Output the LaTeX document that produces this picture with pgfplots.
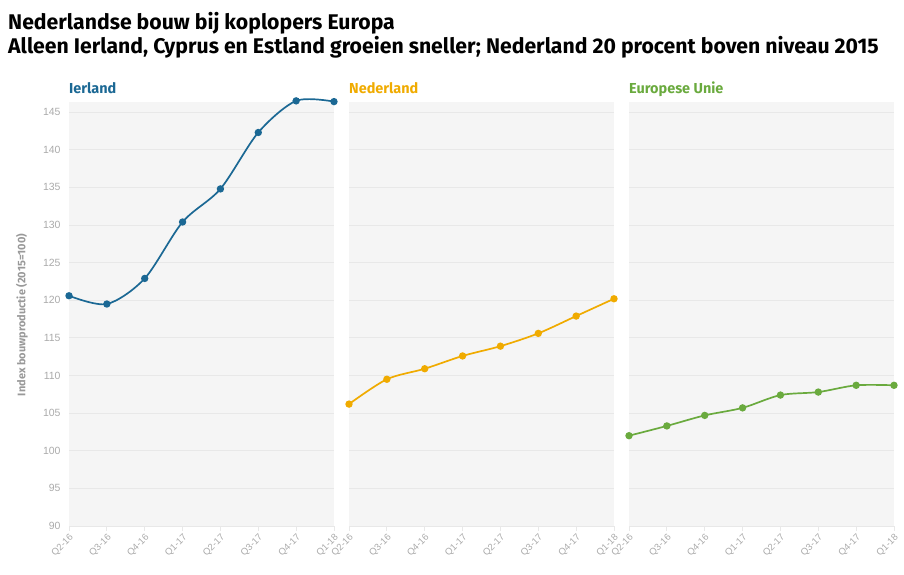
\documentclass[border=0pt]{standalone}
\usepackage{pgfplots}
\pgfplotsset{compat=1.18}
\usepackage{fontspec}
\setmainfont{Fira Sans}
\newfontfamily\arialf{Liberation Sans}
\definecolor{ie}{HTML}{1B6894}
\definecolor{nl}{HTML}{F0AB00}
\definecolor{eu}{HTML}{6AAA3E}
\definecolor{bgc}{HTML}{F5F5F5}
\definecolor{gridc}{HTML}{E8E8E8}
\definecolor{tickc}{HTML}{AAAAAA}
\definecolor{labc}{HTML}{999999}
\pgfplotsset{
  panel/.style={
    scale only axis, width=265bp, height=424bp, anchor=south west,
    xmin=0, xmax=7, ymin=90, ymax=146.35,
    axis background/.style={fill=bgc},
    axis x line*=bottom, axis y line*=left,
    x axis line style={draw=gridc, line width=0.8pt, -},
    y axis line style={draw=none},
    ytick={90,95,...,145},
    ymajorgrids, grid style={draw=gridc, line width=0.8pt},
    ytick style={draw=none},
    xtick={0,...,7},
    xticklabels={Q2-16,Q3-16,Q4-16,Q1-17,Q2-17,Q3-17,Q4-17,Q1-18},
    tick align=outside, major tick length=5bp,
    xtick style={draw=gridc, line width=0.8pt},
    x tick label style={rotate=45, anchor=north east, font=\arialf\fontsize{9.5}{10}\selectfont, text=tickc, inner sep=1.5pt},
    y tick label style={font=\arialf\fontsize{10.5}{11}\selectfont, text=tickc},
    /pgf/number format/assume math mode=true,
    clip=false,
    every axis plot/.append style={line width=1.7pt, smooth, tension=0.5, mark=*, mark size=2.8pt},
  }
}
\begin{document}
\begin{tikzpicture}
\useasboundingbox (0,0) rectangle (904bp,575bp);
\node[anchor=base west, inner sep=0, font=\bfseries\fontsize{21.3}{24}\selectfont] at (8bp,545.5bp) {Nederlandse bouw bij koplopers Europa};
\node[anchor=base west, inner sep=0, font=\bfseries\fontsize{21.3}{24}\selectfont] at (8bp,521.5bp) {Alleen Ierland, Cyprus en Estland groeien sneller; Nederland 20 procent boven niveau 2015};
\node[anchor=base west, inner sep=0, font=\bfseries\fontsize{14.5}{16}\selectfont, text=ie] at (69bp,481bp) {Ierland};
\node[anchor=base west, inner sep=0, font=\bfseries\fontsize{14.5}{16}\selectfont, text=nl] at (349bp,481bp) {Nederland};
\node[anchor=base west, inner sep=0, font=\bfseries\fontsize{14.5}{16}\selectfont, text=eu] at (629bp,481bp) {Europese Unie};
\node[rotate=90, inner sep=0, font=\bfseries\fontsize{11}{12}\selectfont, text=labc] at (22bp,260bp) {Index bouwproductie (2015=100)};

\begin{axis}[panel, at={(69bp,49bp)}]
\addplot[color=ie, mark options={fill=ie}] coordinates {
(0,120.6) (1,119.5) (2,122.9) (3,130.4) (4,134.8) (5,142.3) (6,146.5) (7,146.4)};
\end{axis}
\begin{axis}[panel, at={(349bp,49bp)}, yticklabels={}]
\addplot[color=nl, mark options={fill=nl}] coordinates {
(0,106.2) (1,109.5) (2,110.9) (3,112.6) (4,113.9) (5,115.6) (6,117.9) (7,120.2)};
\end{axis}
\begin{axis}[panel, at={(629bp,49bp)}, yticklabels={}]
\addplot[color=eu, mark options={fill=eu}] coordinates {
(0,102.0) (1,103.3) (2,104.7) (3,105.7) (4,107.4) (5,107.8) (6,108.7) (7,108.7)};
\end{axis}
\end{tikzpicture}
\end{document}
